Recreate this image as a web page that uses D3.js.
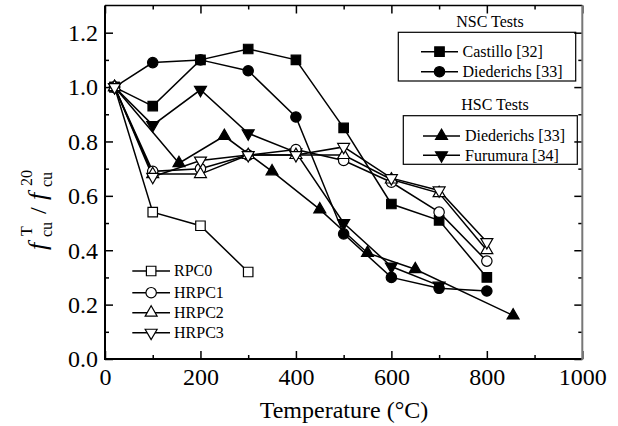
<!DOCTYPE html>
<html><head><meta charset="utf-8">
<script src="https://cdn.jsdelivr.net/npm/d3@7"></script>
<style>body{margin:0;background:#fff}svg{display:block}</style>
</head><body><svg id="c" width="618" height="426"></svg>
<script>
// ---- data ----
const castilloT = [20,100,200,300,400,500,600,700,800];
const castilloV = [1.0,0.93,1.10,1.14,1.10,0.85,0.57,0.51,0.30];
const diedNscT = [20,100,200,300,400,500,600,700,800];
const diedNscV = [1.0,1.09,1.10,1.06,0.89,0.46,0.30,0.26,0.25];
const diedHscT = [20,155,250,350,450,550,650,855];
const diedHscV = [1.0,0.72,0.82,0.69,0.55,0.39,0.33,0.16];
const furuT = [20,100,200,300,400,500,600,700];
const furuV = [1.0,0.86,0.99,0.83,0.76,0.50,0.34,0.27];
const rpc0T = [20,100,200,300];
const rpc0V = [1.0,0.54,0.49,0.32];
const hrpcT = [20,100,200,300,400,500,600,700,800];
const hrpc1V = [1.0,0.69,0.70,0.75,0.77,0.73,0.65,0.54,0.36];
const hrpc2V = [1.0,0.68,0.68,0.75,0.75,0.75,0.66,0.61,0.40];
const hrpc3V = [1.0,0.67,0.73,0.75,0.75,0.78,0.665,0.62,0.43];
const xTicks = [0,200,400,600,800,1000];
const yTicks = [0.0,0.2,0.4,0.6,0.8,1.0,1.2];

const series = [
  {name:"Castillo [32]", t:castilloT, v:castilloV, shape:"square", fill:"#000"},
  {name:"Diederichs [33]", t:diedNscT, v:diedNscV, shape:"circle", fill:"#000"},
  {name:"Diederichs [33]", t:diedHscT, v:diedHscV, shape:"tri", fill:"#000"},
  {name:"Furumura [34]", t:furuT, v:furuV, shape:"itri", fill:"#000"},
  {name:"RPC0", t:rpc0T, v:rpc0V, shape:"square", fill:"#fff"},
  {name:"HRPC1", t:hrpcT, v:hrpc1V, shape:"circle", fill:"#fff"},
  {name:"HRPC2", t:hrpcT, v:hrpc2V, shape:"tri", fill:"#fff"},
  {name:"HRPC3", t:hrpcT, v:hrpc3V, shape:"itri", fill:"#fff"}
];

const FONT = "'Liberation Serif','Times New Roman',Times,serif";
const svg = d3.select("#c").style("font-family", FONT);
const L=105, R=582.3, T=5.5, B=359;
const x = d3.scaleLinear().domain([0,1000]).range([L,R]);
const y = d3.scaleLinear().domain([0,1.3]).range([B,T]);

function sym(shape){
  if(shape==="square") return d3.symbol().type(d3.symbolSquare).size(90)();
  if(shape==="circle") return d3.symbol().type(d3.symbolCircle).size(85)();
  return d3.symbol().type(d3.symbolTriangle).size(62)();
}
function drawMarker(g, shape, cx, cy, fill){
  g.append("path").attr("d", sym(shape))
    .attr("transform", `translate(${cx},${cy})` + (shape==="itri"?" rotate(180)":""))
    .attr("fill", fill).attr("stroke","#000").attr("stroke-width",1.2);
}

// axes (inward ticks, mirrored)
const axG = svg.append("g");
const xMinor = d3.range(0,1001,100), yMinor = d3.range(0,13).map(d=>d/10);
const gx = axG.append("g").attr("transform",`translate(0,${B})`)
  .call(d3.axisBottom(x).tickValues(xTicks).tickFormat(d3.format("d")).tickSizeInner(-8).tickSizeOuter(0));
gx.selectAll("text").attr("dy",null).attr("y",26).style("font-size","24px");
axG.append("g").attr("transform",`translate(0,${B})`)
  .call(d3.axisBottom(x).tickValues(xMinor.filter(d=>d%200)).tickFormat("").tickSizeInner(-4).tickSizeOuter(0));
axG.append("g").attr("transform",`translate(0,${T})`)
  .call(d3.axisTop(x).tickValues(xTicks).tickFormat("").tickSizeInner(-8).tickSizeOuter(0));
axG.append("g").attr("transform",`translate(0,${T})`)
  .call(d3.axisTop(x).tickValues(xMinor.filter(d=>d%200)).tickFormat("").tickSizeInner(-4).tickSizeOuter(0));
const gy = axG.append("g").attr("transform",`translate(${L},0)`)
  .call(d3.axisLeft(y).tickValues(yTicks).tickFormat(d3.format(".1f")).tickSizeInner(-8).tickSizeOuter(0));
gy.selectAll("text").attr("x",-7).attr("dy","0.33em").style("font-size","24px");
axG.append("g").attr("transform",`translate(${L},0)`)
  .call(d3.axisLeft(y).tickValues(yMinor.filter((d,i)=>i%2)).tickFormat("").tickSizeInner(-4).tickSizeOuter(0));
axG.append("g").attr("transform",`translate(${R},0)`)
  .call(d3.axisRight(y).tickValues(yTicks).tickFormat("").tickSizeInner(-8).tickSizeOuter(0));
axG.append("g").attr("transform",`translate(${R},0)`)
  .call(d3.axisRight(y).tickValues(yMinor.filter((d,i)=>i%2)).tickFormat("").tickSizeInner(-4).tickSizeOuter(0));
axG.selectAll(".domain").remove();
axG.selectAll("g").attr("font-family", FONT);
axG.selectAll(".tick line").attr("stroke","#000").attr("stroke-width",1.5);
// frame
svg.append("line").attr("x1",L).attr("x2",R).attr("y1",T).attr("y2",T).attr("stroke","#000").attr("stroke-width",1.5);
svg.append("line").attr("x1",L).attr("x2",R).attr("y1",B).attr("y2",B).attr("stroke","#000").attr("stroke-width",2);
svg.append("line").attr("x1",L).attr("x2",L).attr("y1",T).attr("y2",B+1).attr("stroke","#000").attr("stroke-width",2);
svg.append("line").attr("x1",R).attr("x2",R).attr("y1",T).attr("y2",B+1).attr("stroke","#777").attr("stroke-width",2);

// series
const line = d3.line().x(d=>x(d[0])).y(d=>y(d[1]));
const sG = svg.append("g");
series.forEach(s=>{
  const pts = s.t.map((t,i)=>[t,s.v[i]]);
  sG.append("path").attr("d",line(pts)).attr("fill","none").attr("stroke","#000").attr("stroke-width",1.5);
});
series.forEach(s=>{
  s.t.forEach((t,i)=>drawMarker(sG, s.shape, x(t), y(s.v[i]), s.fill));
});

// legends
function txt(g, xx, yy, size, str){
  return g.append("text").attr("x",xx).attr("y",yy).attr("font-family",FONT).style("font-size",size+"px").attr("fill","#000").text(str);
}
function legendEntry(s, lx1, lx2, ly, tx){
  const g = svg.append("g");
  g.append("line").attr("x1",lx1).attr("x2",lx2).attr("y1",ly).attr("y2",ly).attr("stroke","#000").attr("stroke-width",1.5);
  drawMarker(g, s.shape, (lx1+lx2)/2, ly, s.fill);
  txt(g, tx, ly, 16, s.name).attr("dy","0.33em");
}
txt(svg, 490, 27, 16, "NSC Tests").attr("text-anchor","middle");
svg.append("rect").attr("x",398.3).attr("y",32.3).attr("width",177.4).attr("height",48.7).attr("fill","none").attr("stroke","#000").attr("stroke-width",1.2);
legendEntry(series[0],421,458,51.7,462.5);
legendEntry(series[1],421,458,71.7,462.5);
txt(svg, 495, 110, 16, "HSC Tests").attr("text-anchor","middle");
svg.append("rect").attr("x",403.3).attr("y",115.7).attr("width",174).attr("height",48.6).attr("fill","none").attr("stroke","#000").attr("stroke-width",1.2);
legendEntry(series[2],423,460,136,465);
legendEntry(series[3],423,460,155.3,465);
[4,5,6,7].forEach((k,i)=>legendEntry(series[k],132.3,170,[271,292.7,312.7,332.7][i],174));

// axis titles
txt(svg, 344, 418, 24, "Temperature (°C)").attr("text-anchor","middle");
const yl = svg.append("g").attr("transform","translate(46,250) rotate(-90)");
txt(yl, 0, 0, 26, "f").style("font-style","italic");
txt(yl, 13, 6, 16, "cu");
txt(yl, 14, -14, 16, "T");
txt(yl, 36, 0, 24, "/");
txt(yl, 50, 0, 26, "f").style("font-style","italic");
txt(yl, 63, 6, 16, "cu");
txt(yl, 64, -14, 16, "20");
</script></body></html>
